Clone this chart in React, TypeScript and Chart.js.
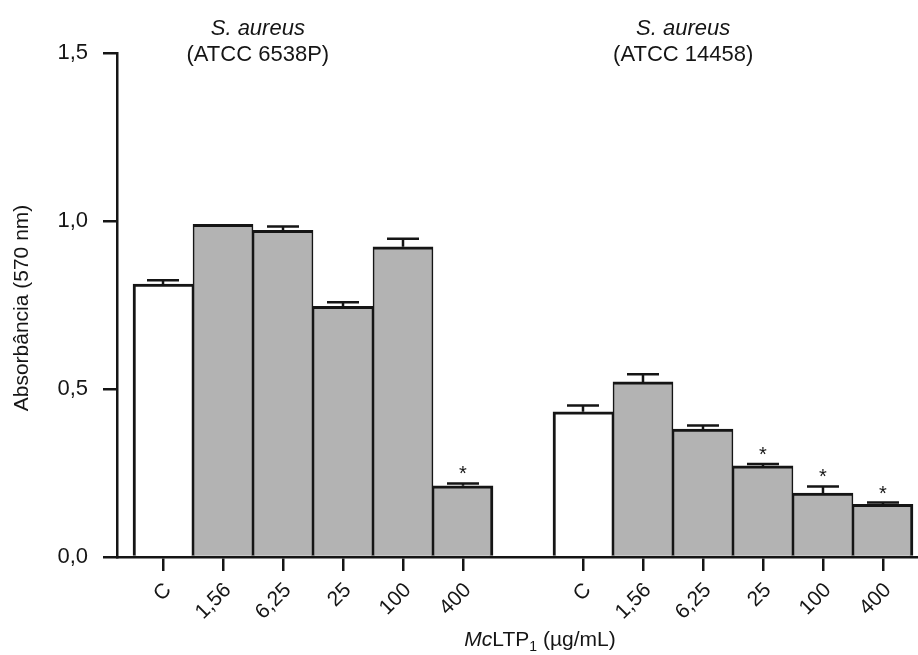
import React, { useEffect, useRef } from "react";
import { Chart, registerables } from "chart.js";

Chart.register(...registerables);

// ---- data ----
const xPositions = [0, 1, 2, 3, 4, 5, 7, 8, 9, 10, 11, 12];
const xLabels = ["C", "1,56", "6,25", "25", "100", "400", "C", "1,56", "6,25", "25", "100", "400"];
const means = [0.812, 0.99, 0.972, 0.746, 0.923, 0.212, 0.432, 0.521, 0.381, 0.271, 0.19, 0.157];
const errors = [0.012, 0.0, 0.012, 0.012, 0.024, 0.007, 0.019, 0.023, 0.01, 0.006, 0.02, 0.005];
const significant = [false, false, false, false, false, true, false, false, false, true, true, true];
const isControl = [true, false, false, false, false, false, true, false, false, false, false, false];
const groupFirst = [0, 6];
const groupLast = [5, 11];
const yTicks = [0, 0.5, 1.0, 1.5];
const yTickLabels = ["0,0", "0,5", "1,0", "1,5"];
const groupSpecies = ["S. aureus", "S. aureus"];
const groupStrains = ["(ATCC 6538P)", "(ATCC 14458)"];
const groupTitleX = [1.58, 8.67];

const FONT = "'Liberation Sans', Arial, Helvetica, sans-serif";
const INK = "#151515";

const overlayPlugin = {
  id: "overlay",
  afterDatasetsDraw(chart: any) {
    const ctx = chart.ctx;
    const xs = chart.scales.x;
    const ys = chart.scales.y;
    ctx.save();
    ctx.strokeStyle = INK;
    ctx.fillStyle = INK;
    ctx.lineWidth = 2.5;
    means.forEach((m, i) => {
      const x = xs.getPixelForValue(xPositions[i]);
      const top = ys.getPixelForValue(m);
      const cap = ys.getPixelForValue(m + errors[i]);
      if (errors[i] > 0) {
        ctx.beginPath();
        ctx.moveTo(x, top);
        ctx.lineTo(x, cap);
        ctx.moveTo(x - 16, cap);
        ctx.lineTo(x + 16, cap);
        ctx.stroke();
      }
      if (significant[i]) {
        ctx.font = `20px ${FONT}`;
        ctx.textAlign = "center";
        ctx.textBaseline = "alphabetic";
        ctx.fillText("*", x, cap - 3);
      }
    });
    ctx.restore();
  },
  afterDraw(chart: any) {
    const ctx = chart.ctx;
    const xs = chart.scales.x;
    const area = chart.chartArea;
    ctx.save();
    ctx.fillStyle = INK;
    ctx.textAlign = "center";
    ctx.textBaseline = "middle";
    groupTitleX.forEach((gx, g) => {
      const px = xs.getPixelForValue(gx);
      ctx.font = `italic 22px ${FONT}`;
      ctx.fillText(groupSpecies[g], px, 29);
      ctx.font = `22px ${FONT}`;
      ctx.fillText(groupStrains[g], px, 55);
    });

    // y axis title
    ctx.save();
    ctx.translate(22, (area.top + area.bottom) / 2 + 3);
    ctx.rotate(-Math.PI / 2);
    ctx.font = `21px ${FONT}`;
    ctx.textAlign = "center";
    ctx.textBaseline = "middle";
    ctx.fillText("Absorbância (570 nm)", 0, 0);
    ctx.restore();

    // x axis title: McLTP1 (µg/mL)
    const parts = [
      { t: "Mc", font: `italic 21px ${FONT}`, dy: 0 },
      { t: "LTP", font: `21px ${FONT}`, dy: 0 },
      { t: "1", font: `14px ${FONT}`, dy: 5 },
      { t: " (µg/mL)", font: `21px ${FONT}`, dy: 0 },
    ];
    let total = 0;
    parts.forEach((p) => {
      ctx.font = p.font;
      total += ctx.measureText(p.t).width;
    });
    let cx = 540 - total / 2;
    ctx.textAlign = "left";
    ctx.textBaseline = "alphabetic";
    parts.forEach((p) => {
      ctx.font = p.font;
      ctx.fillText(p.t, cx, 646 + p.dy);
      cx += ctx.measureText(p.t).width;
    });
    ctx.restore();
  },
};

export default function App() {
  const ref = useRef<HTMLCanvasElement | null>(null);
  useEffect(() => {
    if (!ref.current) return;
    const chart = new Chart(ref.current, {
      type: "bar",
      data: {
        datasets: [
          {
            data: xPositions.map((x, i) => ({ x, y: means[i] })),
            backgroundColor: isControl.map((c) => (c ? "#ffffff" : "#b3b3b3")),
            borderColor: INK,
            borderWidth: (c: any) => {
              const i = c.dataIndex;
              return {
                top: 3,
                bottom: 0,
                left: groupFirst.includes(i) ? 3 : 1.6,
                right: groupLast.includes(i) ? 3 : 1.6,
              };
            },
            borderSkipped: "start",
            barPercentage: 1,
            categoryPercentage: 1,
          } as any,
        ],
      },
      options: {
        responsive: false,
        animation: false,
        devicePixelRatio: 1,
        layout: { padding: { top: 53, left: 0, right: 1, bottom: 0 } },
        plugins: { legend: { display: false }, tooltip: { enabled: false } },
        scales: {
          x: {
            type: "linear",
            offset: false,
            min: -0.767,
            max: 12.567,
            afterBuildTicks: (s: any) => {
              s.ticks = xPositions.map((v) => ({ value: v }));
            },
            afterFit: (s: any) => {
              s.height = 98;
            },
            grid: {
              offset: false,
              drawOnChartArea: false,
              drawTicks: true,
              tickLength: 14,
              color: INK,
              lineWidth: 2.5,
            },
            border: { display: true, color: INK, width: 2.5 },
            ticks: {
              autoSkip: false,
              minRotation: 45,
              maxRotation: 45,
              padding: 7,
              labelOffset: 5,
              color: INK,
              font: { size: 21, family: FONT },
              callback: (_v: any, i: number) => xLabels[i],
            },
          },
          y: {
            min: 0,
            max: 1.5,
            afterBuildTicks: (s: any) => {
              s.ticks = yTicks.map((v) => ({ value: v }));
            },
            afterFit: (s: any) => {
              s.width = 117;
            },
            grid: {
              drawOnChartArea: false,
              drawTicks: true,
              tickLength: 14,
              color: INK,
              lineWidth: 2.5,
            },
            border: { display: true, color: INK, width: 2.5 },
            ticks: {
              padding: 15,
              color: INK,
              font: { size: 22, family: FONT },
              callback: (_v: any, i: number) => yTickLabels[i],
            },
          },
        },
      } as any,
      plugins: [overlayPlugin],
    });
    return () => chart.destroy();
  }, []);
  return (
    <div style={{ position: "absolute", left: 0, top: 0, width: 918, height: 655, background: "#fff" }}>
      <canvas ref={ref} width={918} height={655} style={{ display: "block" }} />
    </div>
  );
}
